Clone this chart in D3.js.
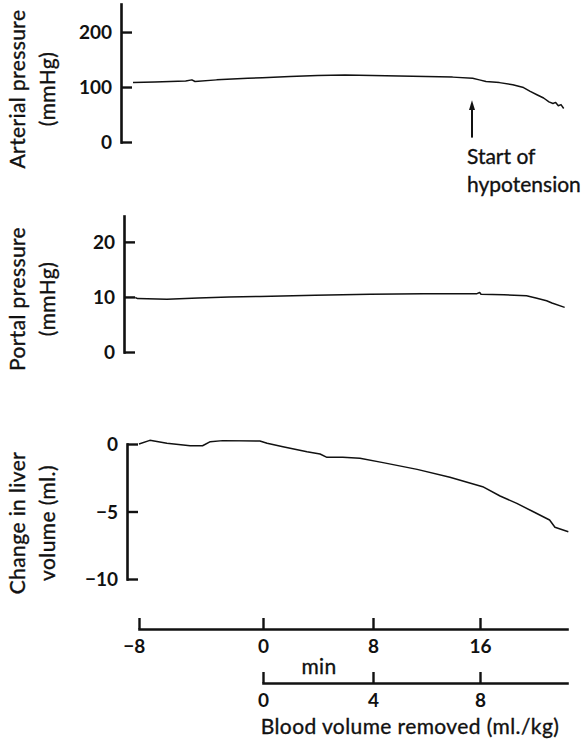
<!DOCTYPE html>
<html>
<head>
<meta charset="utf-8">
<script src="https://cdn.jsdelivr.net/npm/d3@7"></script>
<style>
body { margin: 0; background: #fff; }
svg { display: block; font-family: Lato, "Open Sans", sans-serif; }
.axis .domain { stroke: #111; stroke-width: 2.6; stroke-linecap: square; }
.axis .tick line { stroke: #111; stroke-width: 2.4; }
.axis .tick text { font-size: 19px; font-weight: bold; fill: #111; font-family: Lato, sans-serif; }
.trace { fill: none; stroke: #111; stroke-width: 1.5; stroke-linejoin: round; }
.label { font-size: 21px; fill: #111; stroke: #111; stroke-width: 0.35; letter-spacing: 0.4px; }
.note { letter-spacing: 0; }
</style>
</head>
<body>
<svg class="chart"></svg>
<script>
var width = 584;
var height = 747;

// shared time axis (min) and the blood volume removed axis (ml./kg)
var timeTicks = [-8, 0, 8, 16];
var volumeTicks = [0, 4, 8];

// arterial pressure (mmHg)
var arterialTicks = [0, 100, 200];
var arterialTime = [-8.0, -6.6, -5.6, -4.6, -4.2, -4.0, -2.6, -0.6, 0.4, 2.4, 4.4, 6.4, 8.4, 10.4, 12.4, 14.4, 15.9, 16.4, 16.9, 17.9, 18.9, 19.7, 20.2, 20.7, 21.2, 21.6, 21.9, 22.1, 22.3, 22.5, 22.7];
var arterialValue = [108, 109, 110, 111, 113, 110, 113, 116, 117, 119, 121, 122, 121, 120, 119, 118, 116, 113, 110, 108, 104, 99, 92, 86, 80, 73, 70, 72, 66, 68, 61];

// portal pressure (mmHg)
var portalTicks = [0, 10, 20];
var portalTime = [-8.05, -7.9, -6, -4, -2, 0, 4, 8, 12, 16, 16.2, 16.3, 18, 19.7, 20.4, 21.2, 21.6, 22.55];
var portalValue = [9.9, 9.7, 9.6, 9.8, 10.0, 10.1, 10.3, 10.5, 10.6, 10.6, 10.8, 10.5, 10.4, 10.2, 9.8, 9.3, 8.9, 8.1];

// change in liver volume (ml.)
var liverTicks = [0, -5, -10];
var liverTime = [-8.0, -7.3, -6.2, -4.7, -3.9, -3.4, -2.6, -0.2, 0.3, 1.45, 3.2, 4.15, 4.65, 5.8, 7.05, 8.75, 11.3, 13.75, 16.2, 17.5, 18.75, 19.95, 21.2, 21.6, 22.6];
var liverValue = [0, 0.27, 0.05, -0.13, -0.13, 0.17, 0.25, 0.22, 0.05, -0.2, -0.57, -0.74, -0.99, -0.99, -1.06, -1.38, -1.88, -2.47, -3.16, -3.85, -4.4, -5.0, -5.63, -6.17, -6.5];

var annotationTime = 15.85;

var chart = d3.select(".chart")
    .attr("width", width)
    .attr("height", height);

// the record was drawn by hand, so the time axis is not quite even
var x = d3.scaleLinear()
    .domain([-8, 0, 8, 16, 22.5])
    .range([139, 263, 373, 480, 567]);

var xVol = d3.scaleLinear()
    .domain([0, 4, 8, 11.25])
    .range([x(0), x(8), x(16), x(22.5)]);

var panels = [
    {dx: -6, domain: [0, 251], range: [142, 4], ticks: arterialTicks, time: arterialTime, value: arterialValue,
        title: ["Arterial pressure", "(mmHg)"], titleY: 89},
    {dx: -3, domain: [0, 24.7], range: [352, 216], ticks: portalTicks, time: portalTime, value: portalValue,
        title: ["Portal pressure", "(mmHg)"], titleY: 299},
    {dx: 0, domain: [-10, 0], range: [579, 444], ticks: liverTicks, time: liverTime, value: liverValue,
        title: ["Change in liver", "volume (ml.)"], titleY: 523}
];

var axisX = 127;

panels.forEach(function(p, i) {
    var y = d3.scaleLinear().domain(p.domain).range(p.range);
    var g = chart.append("g").attr("transform", "translate(" + p.dx + ",0)");

    g.append("g")
        .attr("class", "axis")
        .attr("transform", "translate(" + axisX + ",0)")
        .call(d3.axisLeft(y)
            .tickValues(p.ticks)
            .tickSizeInner(-11)
            .tickSizeOuter(0)
            .tickPadding(9))
        .call(function(a) { a.selectAll(".tick text").attr("dy", "0.36em"); });

    var line = d3.line()
        .x(function(d) { return x(d[0]); })
        .y(function(d) { return y(d[1]); });

    g.append("path")
        .datum(d3.zip(p.time, p.value))
        .attr("class", "trace")
        .attr("d", line);

    p.title.forEach(function(t, j) {
        chart.append("text")
            .attr("class", "label")
            .attr("transform", "translate(" + (18 + j * 30) + "," + p.titleY + ") rotate(-90)")
            .attr("text-anchor", "middle")
            .attr("dy", "0.35em")
            .text(t);
    });

    if (i == 0) {
        var ax = x(annotationTime);
        g.append("line")
            .attr("x1", ax).attr("x2", ax)
            .attr("y1", y(8)).attr("y2", y(64))
            .attr("stroke", "#111")
            .attr("stroke-width", 2);
        g.append("path")
            .attr("d", "M" + (ax - 3) + "," + y(58) + "L" + ax + "," + y(76) + "L" + (ax + 3) + "," + y(58) + "Z")
            .attr("fill", "#111");
        g.append("text")
            .attr("class", "label note")
            .attr("x", ax - 5)
            .attr("y", 164)
            .text("Start of");
        g.append("text")
            .attr("class", "label note")
            .attr("x", ax - 5)
            .attr("y", 192)
            .text("hypotension");
    }
});

// time axis
chart.append("g")
    .attr("class", "axis")
    .attr("transform", "translate(0,629)")
    .call(d3.axisBottom(x)
        .tickValues(timeTicks)
        .tickSizeInner(-11)
        .tickSizeOuter(0)
        .tickPadding(11))
    .call(function(a) {
        a.selectAll(".tick text")
            .filter(function(d) { return d < 0; })
            .attr("text-anchor", "end")
            .attr("dx", "0.3em");
    });

chart.append("text")
    .attr("class", "label")
    .attr("x", 319)
    .attr("y", 674)
    .attr("text-anchor", "middle")
    .text("min");

// blood volume axis
chart.append("g")
    .attr("class", "axis")
    .attr("transform", "translate(0,683)")
    .call(d3.axisBottom(xVol)
        .tickValues(volumeTicks)
        .tickSizeInner(-11)
        .tickSizeOuter(0)
        .tickPadding(11));

chart.append("text")
    .attr("class", "label")
    .attr("x", 410)
    .attr("y", 734)
    .attr("text-anchor", "middle")
    .text("Blood volume removed (ml./kg)");
</script>
</body>
</html>
